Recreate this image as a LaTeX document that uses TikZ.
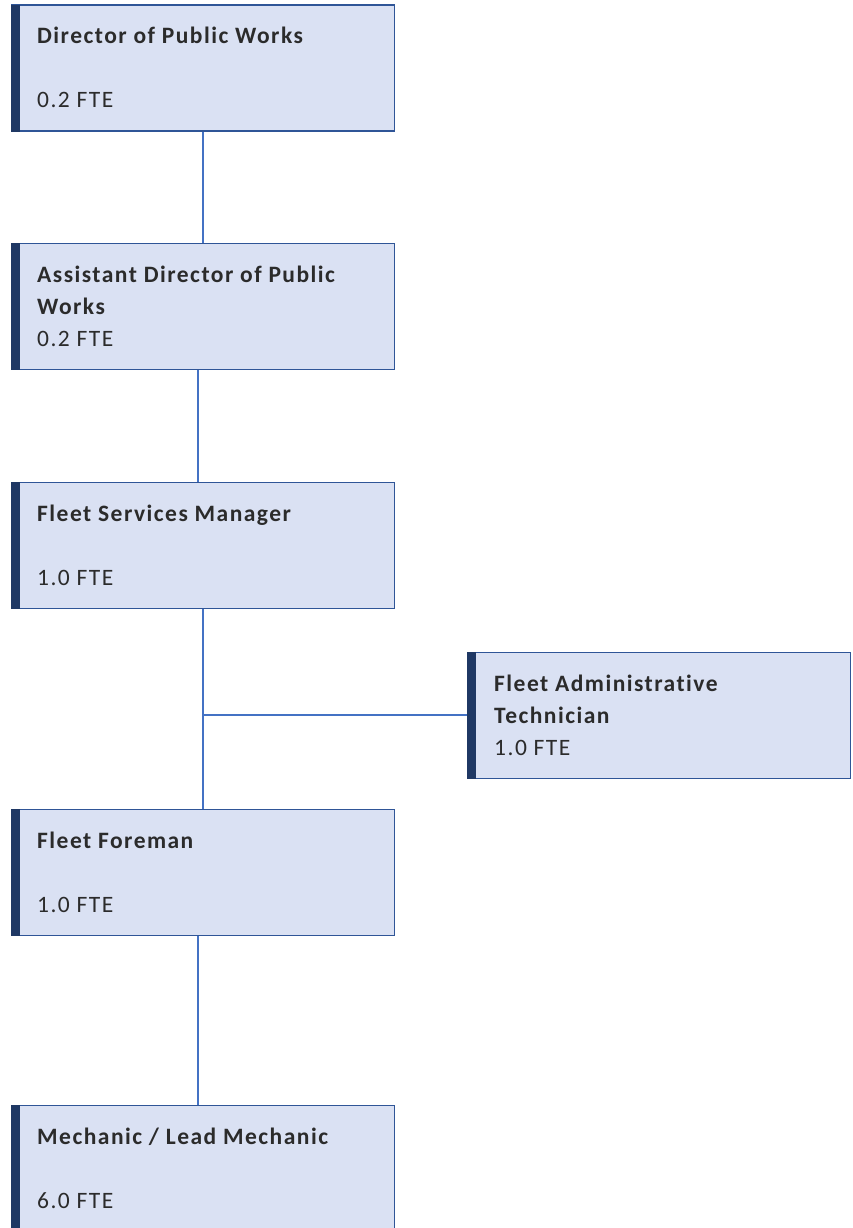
\documentclass[tikz,border=0pt]{standalone}
\usepackage{fontspec}
\setmainfont{Carlito}[LetterSpace=6.3, Ligatures=NoCommon]
\usepackage{tikz}
\definecolor{postfill}{HTML}{DAE1F3}
\definecolor{postline}{HTML}{2F5597}
\definecolor{barblue}{HTML}{1F3864}
\definecolor{linkblue}{HTML}{4472C4}
\definecolor{textgrey}{HTML}{2B2B2B}
\tikzstyle{post}=[draw=postline, fill=postfill, line width=1.5pt, minimum width=383pt, minimum height=126pt, anchor=north west, inner sep=0]
\tikzstyle{bar}=[fill=barblue, minimum width=9pt, minimum height=127pt, anchor=north west, inner sep=0]
\tikzstyle{title}=[anchor=base west, inner sep=0, text=textgrey, font=\fontsize{23.5}{28}\selectfont\bfseries]
\tikzstyle{fte}=[anchor=base west, inner sep=0, text=textgrey, font=\fontsize{23.5}{28}\selectfont]
\tikzstyle{link}=[draw=linkblue, line width=2pt]

\begin{document}
\begin{tikzpicture}[x=1pt, y=-1pt]
  \useasboundingbox (0,0) rectangle (852,1228);
  % boxes
  \node[post] (dir) at (10.5,4.5) {};
  \node[post] (asst) at (10.5,242.5) {};
  \node[post] (mgr) at (10.5,481.5) {};
  \node[post] (admin) at (466.5,651.5) {};
  \node[post] (fore) at (10.5,808.5) {};
  \node[post] (mech) at (10.5,1104.5) {};
  % dark side bars
  \node[bar] (dir_bar) at (dir.north west) {};
  \node[bar] (asst_bar) at (asst.north west) {};
  \node[bar] (mgr_bar) at (mgr.north west) {};
  \node[bar] (admin_bar) at (admin.north west) {};
  \node[bar] (fore_bar) at (fore.north west) {};
  \node[bar] (mech_bar) at (mech.north west) {};
  % texts
  \node[title] (dir_t) at (37,44) {Director of Public Works};
  \node[fte] (dir_f) at (37,108) {0.2 FTE};
  \node[title] (asst_t) at (37,282) {Assistant Director of Public};
  \node[title] (asst_t2) at (37,314) {Works};
  \node[fte] (asst_f) at (37,346) {0.2 FTE};
  \node[title] (mgr_t) at (37,521) {Fleet Services Manager};
  \node[fte] (mgr_f) at (37,585) {1.0 FTE};
  \node[title] (admin_t) at (494,691) {Fleet Administrative};
  \node[title] (admin_t2) at (494,723) {Technician};
  \node[fte] (admin_f) at (494,755) {1.0 FTE};
  \node[title] (fore_t) at (37,848) {Fleet Foreman};
  \node[fte] (fore_f) at (37,912) {1.0 FTE};
  \node[title] (mech_t) at (37,1144) {Mechanic / Lead Mechanic};
  \node[fte] (mech_f) at (37,1208) {6.0 FTE};
  % connectors
  \draw[link] (dir.south) to (asst.north);
  \draw[link] ([xshift=-5pt]asst.south) to ([xshift=-5pt]mgr.north);
  \draw[link] (mgr.south) to (fore.north);
  \draw[link] (mgr.south |- admin.west) to (admin.west);
  \draw[link] ([xshift=-5pt]fore.south) to ([xshift=-5pt]mech.north);
\end{tikzpicture}
\end{document}
